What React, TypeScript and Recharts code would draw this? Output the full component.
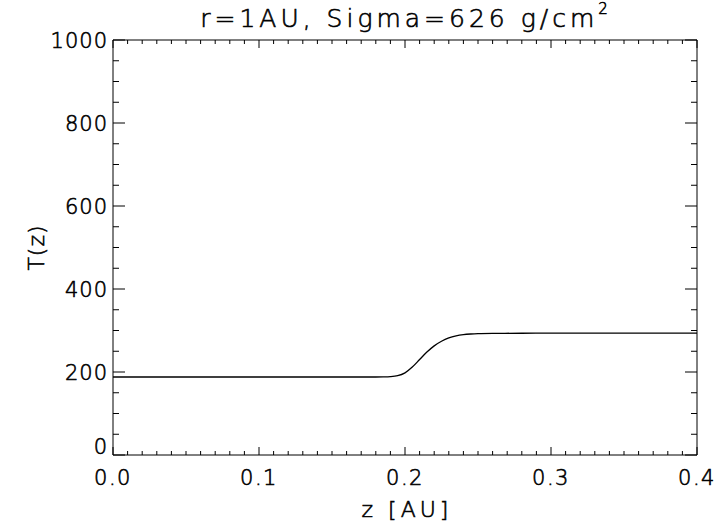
import React from 'react';
import { LineChart, Line, XAxis, YAxis } from 'recharts';

const zValues = [0, 0.05, 0.1, 0.15, 0.18, 0.185, 0.19, 0.195, 0.2, 0.205, 0.21, 0.215, 0.22, 0.225, 0.23, 0.235, 0.24, 0.245, 0.25, 0.26, 0.28, 0.3, 0.35, 0.4];
const tValues = [188, 188, 188, 188, 188, 188.2, 188.8, 191, 198, 212, 230, 248, 263, 274, 282, 287, 290, 291.6, 292.5, 293.1, 293.4, 293.5, 293.5, 293.5];

const xMajorTicks = [0, 0.1, 0.2, 0.3, 0.4];
const xMajorLabels = ['0.0', '0.1', '0.2', '0.3', '0.4'];
const yMajorTicks = [0, 200, 400, 600, 800, 1000];
const yMajorLabels = ['0', '200', '400', '600', '800', '1000'];
const xMinorDivisions = 10;
const yMinorDivisions = 4;

const title = 'r=1AU, Sigma=626 g/cm';
const titleSup = '2';
const xLabel = 'z [AU]';
const yLabel = 'T(z)';

const data = zValues.map((z, i) => ({ z, T: tValues[i] }));

function subdivide(majors: number[], n: number): number[] {
  const out: number[] = [];
  for (let i = 0; i < majors.length - 1; i++) {
    for (let k = 0; k < n; k++) {
      out.push(Number((majors[i] + ((majors[i + 1] - majors[i]) * k) / n).toFixed(6)));
    }
  }
  out.push(majors[majors.length - 1]);
  return out;
}

const xTicks = subdivide(xMajorTicks, xMinorDivisions);
const yTicks = subdivide(yMajorTicks, yMinorDivisions);

const W = 715;
const H = 527;
const FONT = "'DejaVu Sans', sans-serif";
const WEIGHT = 200;
const TSTROKE = 0.6;
const X_MAJOR = 8;
const X_MINOR = 4;
const Y_MAJOR = 12;
const Y_MINOR = 6;

const majorIndex = (majors: number[], v: number) =>
  majors.findIndex((m) => Math.abs(m - v) < 1e-9);

const BottomTick = (p: any) => {
  const idx = majorIndex(xMajorTicks, p.payload.value);
  const len = idx >= 0 ? X_MAJOR : X_MINOR;
  return (
    <g>
      <line x1={p.x} x2={p.x} y1={p.y} y2={p.y - len} stroke="#000" strokeWidth={1} />
      {idx >= 0 && (
        <text x={p.x} y={p.y + 30} textAnchor="middle" fontSize={21} fontWeight={WEIGHT} letterSpacing={1.5} fontFamily={FONT} fill="#000" stroke="#000" strokeWidth={TSTROKE}>
          {xMajorLabels[idx]}
        </text>
      )}
    </g>
  );
};

const TopTick = (p: any) => {
  const idx = majorIndex(xMajorTicks, p.payload.value);
  const len = idx >= 0 ? X_MAJOR : X_MINOR;
  return <line x1={p.x} x2={p.x} y1={p.y} y2={p.y + len} stroke="#000" strokeWidth={1} />;
};

const LeftTick = (p: any) => {
  const idx = majorIndex(yMajorTicks, p.payload.value);
  const len = idx >= 0 ? Y_MAJOR : Y_MINOR;
  const dy = p.payload.value === 0 ? -1 : 8;
  return (
    <g>
      <line x1={p.x} x2={p.x + len} y1={p.y} y2={p.y} stroke="#000" strokeWidth={1} />
      {idx >= 0 && (
        <text x={p.x - 5} y={p.y + dy} textAnchor="end" fontSize={21} fontWeight={WEIGHT} letterSpacing={1} fontFamily={FONT} fill="#000" stroke="#000" strokeWidth={TSTROKE}>
          {yMajorLabels[idx]}
        </text>
      )}
    </g>
  );
};

const RightTick = (p: any) => {
  const idx = majorIndex(yMajorTicks, p.payload.value);
  const len = idx >= 0 ? Y_MAJOR : Y_MINOR;
  return <line x1={p.x} x2={p.x - len} y1={p.y} y2={p.y} stroke="#000" strokeWidth={1} />;
};

export default function App() {
  return (
    <div style={{ position: 'absolute', left: 0, top: 0, width: W, height: H, background: '#fff' }}>
      <LineChart width={W} height={H} data={data} margin={{ top: 39, right: 17, bottom: 0, left: 0 }}>
        <XAxis
          xAxisId="bottom"
          dataKey="z"
          type="number"
          domain={[0, 0.4]}
          ticks={xTicks}
          interval={0}
          height={72}
          tickSize={0}
          tickMargin={0}
          tickLine={false}
          axisLine={{ stroke: '#000', strokeWidth: 1 }}
          tick={(p: any) => <BottomTick {...p} />}
          allowDataOverflow
          label={{ value: xLabel, position: 'insideBottom', offset: 10, dx: 2, fill: '#000', stroke: '#000', strokeWidth: TSTROKE, fontSize: 22, fontWeight: WEIGHT, letterSpacing: 4, fontFamily: FONT }}
        />
        <XAxis
          xAxisId="top"
          orientation="top"
          dataKey="z"
          type="number"
          domain={[0, 0.4]}
          ticks={xTicks}
          interval={0}
          height={1}
          tickSize={0}
          tickMargin={0}
          tickLine={false}
          axisLine={{ stroke: '#000', strokeWidth: 1 }}
          tick={(p: any) => <TopTick {...p} />}
          allowDataOverflow
        />
        <YAxis
          yAxisId="left"
          type="number"
          domain={[0, 1000]}
          ticks={yTicks}
          interval={0}
          width={113}
          tickSize={0}
          tickMargin={0}
          tickLine={false}
          axisLine={{ stroke: '#000', strokeWidth: 1 }}
          tick={(p: any) => <LeftTick {...p} />}
          allowDataOverflow
          label={{ value: yLabel, angle: -90, position: 'center', dx: -20, fill: '#000', stroke: '#000', strokeWidth: TSTROKE, fontSize: 22, fontWeight: WEIGHT, letterSpacing: 1, fontFamily: FONT }}
        />
        <YAxis
          yAxisId="right"
          orientation="right"
          type="number"
          domain={[0, 1000]}
          ticks={yTicks}
          interval={0}
          width={1}
          tickSize={0}
          tickMargin={0}
          tickLine={false}
          axisLine={{ stroke: '#000', strokeWidth: 1 }}
          tick={(p: any) => <RightTick {...p} />}
          allowDataOverflow
        />
        <Line
          xAxisId="bottom"
          yAxisId="left"
          dataKey="T"
          type="monotone"
          stroke="#000"
          strokeWidth={1.3}
          dot={false}
          activeDot={false}
          isAnimationActive={false}
        />
      </LineChart>
      <svg width={W} height={40} style={{ position: 'absolute', left: 0, top: 0 }}>
        <text x={406} y={27} textAnchor="middle" fontSize={25} fontWeight={WEIGHT} letterSpacing={4} fontFamily={FONT} fill="#000" stroke="#000" strokeWidth={TSTROKE}>
          {title}
          <tspan dy={-13} fontSize={15}>{titleSup}</tspan>
        </text>
      </svg>
    </div>
  );
}
